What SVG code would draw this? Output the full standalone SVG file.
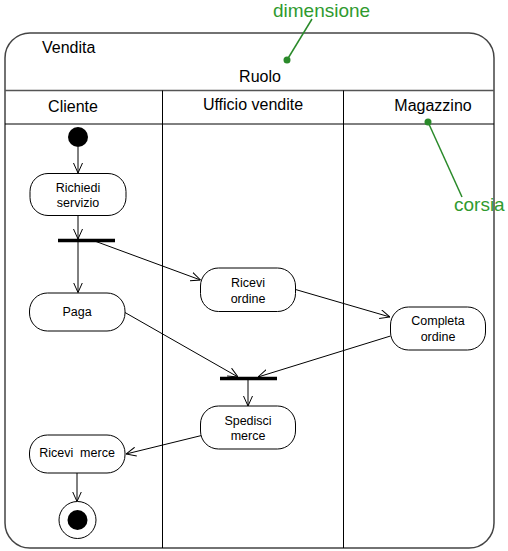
<svg xmlns="http://www.w3.org/2000/svg" width="508" height="551" viewBox="0 0 508 551">
<defs>
<style>
.hdr{font-family:"Liberation Sans",Arial,sans-serif;font-size:16px;fill:#000}
.nt{font-family:"Liberation Sans",Arial,sans-serif;font-size:12.5px;fill:#000;text-anchor:middle}
.gt{font-family:"Liberation Sans",Arial,sans-serif;font-size:19px;fill:#2f9a2f}
.node{fill:#fff;stroke:#000;stroke-width:1}
.edge{stroke:#000;stroke-width:1;fill:none;marker-end:url(#arr)}
.bar{stroke:#000;stroke-width:3.5}
.lane{stroke:#000;stroke-width:1}
.gl{stroke:#2a8a2a;stroke-width:1.5}
</style>
<marker id="arr" viewBox="0 0 10 10" refX="10" refY="5" markerWidth="10" markerHeight="10" markerUnits="userSpaceOnUse" orient="auto">
<path d="M0,0.5 L10,5 L0,9.5" fill="none" stroke="#000" stroke-width="1"/>
</marker>
</defs>
<rect width="508" height="551" fill="#fff"/>
<g id="frame">
<rect x="5" y="33" width="489" height="515" rx="25" ry="25" fill="none" stroke="#444" stroke-width="1.5"/>
<line x1="5" y1="90.5" x2="494" y2="90.5" stroke="#555" stroke-width="1.5"/>
<line x1="5" y1="124" x2="494" y2="124" class="lane"/>
<line x1="162.5" y1="90.5" x2="162.5" y2="548" class="lane"/>
<line x1="343.5" y1="90.5" x2="343.5" y2="548" class="lane"/>
<text class="hdr" x="42" y="53">Vendita</text>
<text class="hdr" x="260" y="82" text-anchor="middle">Ruolo</text>
<text class="hdr" x="73" y="112" text-anchor="middle">Cliente</text>
<text class="hdr" x="253" y="110" text-anchor="middle">Ufficio vendite</text>
<text class="hdr" x="433" y="111" text-anchor="middle">Magazzino</text>
</g>
<g id="annotations">
<line x1="287" y1="60" x2="312" y2="19" class="gl"/>
<circle cx="287" cy="60" r="3.5" fill="#2a8a2a"/>
<text class="gt" x="273" y="17">dimensione</text>
<line x1="428" y1="122" x2="462" y2="197" class="gl"/>
<circle cx="428" cy="122" r="3.5" fill="#2a8a2a"/>
<text class="gt" x="454" y="211">corsia</text>
</g>
<g id="connectors">
<line class="edge" x1="78" y1="147" x2="78" y2="173"/>
<line class="edge" x1="78" y1="216" x2="78" y2="239"/>
<line class="edge" x1="78" y1="242" x2="78" y2="292.5"/>
<line class="edge" x1="96" y1="241.5" x2="200.5" y2="280"/>
<line class="edge" x1="295.5" y1="289.5" x2="390" y2="317"/>
<line class="edge" x1="390.5" y1="336" x2="258" y2="377"/>
<line class="edge" x1="125" y1="312.5" x2="238" y2="377"/>
<line class="edge" x1="248" y1="380" x2="248" y2="406"/>
<line class="edge" x1="201.5" y1="435.5" x2="126" y2="454"/>
<line class="edge" x1="77" y1="473" x2="77" y2="501.5"/>
</g>
<g id="start"><circle cx="78" cy="137" r="10" fill="#000"/></g>
<g id="richiedi">
<rect class="node" x="30" y="173.5" width="96" height="42" rx="18" ry="18"/>
<text class="nt" x="78" y="191.5">Richiedi</text>
<text class="nt" x="78" y="206.5">servizio</text>
</g>
<g id="fork"><line class="bar" x1="58" y1="240.5" x2="115" y2="240.5"/></g>
<g id="paga">
<rect class="node" x="29.5" y="293" width="95.5" height="38" rx="18" ry="18"/>
<text class="nt" x="77" y="316">Paga</text>
</g>
<g id="ricevi-ordine">
<rect class="node" x="200.5" y="268" width="95" height="43.5" rx="18" ry="18"/>
<text class="nt" x="248" y="287">Ricevi</text>
<text class="nt" x="248" y="303">ordine</text>
</g>
<g id="completa">
<rect class="node" x="390.5" y="307" width="95" height="43" rx="18" ry="18"/>
<text class="nt" x="438" y="325">Completa</text>
<text class="nt" x="438" y="341">ordine</text>
</g>
<g id="join"><line class="bar" x1="220" y1="378.5" x2="277" y2="378.5"/></g>
<g id="spedisci">
<rect class="node" x="200.5" y="406" width="95" height="43" rx="18" ry="18"/>
<text class="nt" x="248" y="425">Spedisci</text>
<text class="nt" x="248" y="440">merce</text>
</g>
<g id="ricevi-merce">
<rect class="node" x="29.5" y="435" width="95.5" height="38" rx="18" ry="18"/>
<text class="nt" x="77" y="457" xml:space="preserve">Ricevi  merce</text>
</g>
<g id="end">
<circle cx="77.5" cy="520" r="18.5" fill="#fff" stroke="#000" stroke-width="1"/>
<circle cx="77.5" cy="520" r="10" fill="#000"/>
</g>
</svg>
